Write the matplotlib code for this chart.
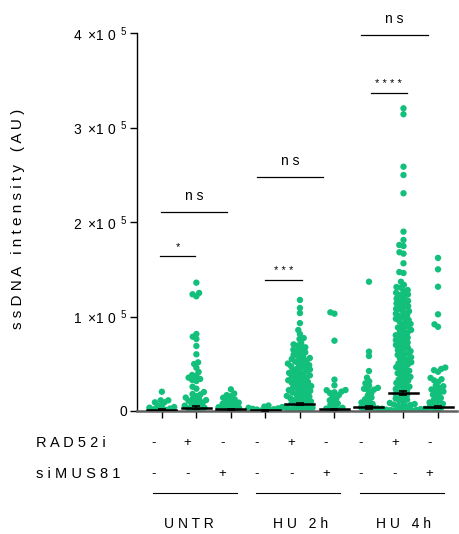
import matplotlib
matplotlib.use("Agg")
import matplotlib.pyplot as plt
import numpy as np

plt.rcParams['font.family'] = ['Liberation Sans', 'DejaVu Sans']
plt.rcParams['mathtext.fontset'] = 'custom'
plt.rcParams['mathtext.rm'] = 'Liberation Sans'

# ssDNA intensity values, in thousands of AU
untr_ctrl = [20.4, 11.3, 11.3, 9.2, 9.2, 5.6, 5.6, 4.2, 3.5, 2.6, 1.8, 1.2, 0.6, 0.2]
untr_rad52i = [135.8, 124.9, 123.5, 121.4, 81.5, 78.6, 76.2, 68.8, 60.0, 51.5, 49.7,
               45.8, 41.3, 38.1, 37.4, 35.3, 33.9, 32.8, 31.7, 25.7, 23.6, 20.1, 18.0,
               17.5, 15.9, 14.2, 13.0, 12.4, 11.5, 10.8, 9.6, 8.8, 7.6, 6.5, 5.6,
               4.7, 3.6, 2.8, 2.0, 1.2, 0.4]
untr_simus81 = [22.9, 18.5, 16.8, 15.6, 14.0, 12.3, 11.6, 10.2, 8.9, 7.7, 7.2, 6.1,
                5.1, 4.0, 3.3, 2.6, 1.8, 1.0, 0.3]
hu2_ctrl = [5.8, 4.6, 4.1, 3.4, 2.8, 2.3, 1.9, 1.5, 1.0, 0.5, 0.2]
hu2_rad52i = [117.5, 109.0, 103.6, 93.0, 85.7, 81.5, 77.2, 76.2, 72.0, 70.5, 69.3, 67.4,
              66.5, 64.8, 63.9, 62.0, 61.2, 59.5, 58.3, 57.3, 56.1, 55.0, 54.4, 53.1,
              52.3, 51.0, 50.2, 49.6, 48.5, 47.3, 46.6, 45.8, 44.7, 43.9, 43.0, 42.1,
              41.4, 40.3, 39.5, 38.6, 37.7, 36.8, 36.2, 35.1, 34.2, 33.4, 32.5, 31.6,
              30.8, 29.9, 29.2, 28.2, 27.3, 26.4, 25.6, 24.7, 23.9, 23.0, 22.1, 21.2,
              20.4, 19.5, 18.7, 17.8, 16.9, 16.0, 15.2, 14.3, 13.4, 12.6, 11.7, 10.8,
              10.0, 9.1, 8.2, 7.4, 6.5, 5.6, 4.8, 3.9, 3.0, 2.2, 1.3, 0.5, 3.3, 1.8,
              0.3]
hu2_simus81 = [104.4, 103.0, 74.4, 33.2, 27.2, 22.2, 22.0, 20.5, 19.8, 19.0, 16.9, 15.5,
               13.2, 11.3, 9.6, 8.0, 6.5, 5.1, 3.4, 2.5, 1.6, 0.8, 0.2]
hu4_ctrl = [136.8, 62.8, 58.2, 42.3, 35.3, 31.4, 29.3, 26.8, 24.5, 23.5, 22.6, 22.0,
            19.0, 16.5, 14.2, 12.4, 10.5, 9.0, 7.5, 6.2, 5.0, 3.8, 2.6, 1.4, 0.4]
hu4_rad52i = [320.3, 314.0, 258.5, 249.7, 230.4, 189.8, 181.0, 175.7, 174.6, 168.0,
              166.5, 156.3, 147.0, 146.0, 136.8, 133.5, 131.2, 130.4, 128.0, 126.9,
              125.1, 123.3, 122.6, 120.8, 119.0, 118.2, 116.5, 115.1, 113.9, 112.4,
              111.0, 109.7, 108.1, 107.3, 105.6, 104.2, 103.0, 101.5, 100.3, 99.1,
              97.6, 96.4, 95.0, 93.8, 92.2, 91.1, 89.7, 88.4, 87.0, 85.8, 84.3, 83.1,
              81.9, 80.2, 79.0, 77.7, 76.5, 75.1, 73.8, 72.4, 71.2, 69.9, 68.5, 67.2,
              66.0, 64.6, 63.3, 62.1, 60.8, 59.4, 58.1, 56.9, 55.5, 54.2, 53.0, 51.6,
              50.3, 49.0, 47.8, 46.4, 45.1, 43.9, 42.5, 41.2, 40.0, 38.7, 37.3, 36.1,
              34.8, 33.5, 32.2, 31.0, 29.7, 28.4, 27.1, 25.8, 24.6, 23.3, 22.0, 20.8,
              19.5, 18.2, 17.0, 15.7, 14.5, 13.2, 12.0, 10.8, 9.6, 8.5, 7.4, 6.3, 5.3,
              4.4, 3.5, 2.7, 2.0, 1.4, 0.9, 0.5, 0.2, 6.8, 5.0, 3.8, 2.4, 1.1, 0.4,
              0.1, 4.0, 2.2, 0.7]
hu4_simus81 = [162.0, 149.9, 131.5, 102.3, 91.7, 89.1, 46.0, 44.5, 43.2, 41.5, 35.0,
               33.6, 32.4, 30.8, 27.0, 26.2, 24.5, 22.8, 22.0, 20.6, 19.4, 17.3,
               15.6, 13.8, 12.0, 10.4, 9.0, 7.6, 6.3, 5.0, 3.4, 1.8, 0.3]

groups = [untr_ctrl, untr_rad52i, untr_simus81, hu2_ctrl, hu2_rad52i, hu2_simus81,
          hu4_ctrl, hu4_rad52i, hu4_simus81]
means = [1.5, 3.5, 1.8, 0.6, 7.4, 1.8, 3.8, 18.8, 4.2]
sems = [0.5, 1.5, 0.5, 0.2, 1.2, 0.6, 1.2, 2.0, 1.3]

rad52i_row = ['-', '+', '-', '-', '+', '-', '-', '+', '-']
simus81_row = ['-', '-', '+', '-', '-', '+', '-', '-', '+']
conditions = ['U N T R', 'H U   2 h', 'H U   4 h']
cond_x = [0.78, 4.03, 6.99]

# significance: (x start, x end, y, label)
sig_bars = [(-0.05, 0.97, 164, '*'), (-0.03, 1.88, 211, 'n s'),
            (3.0, 4.05, 139, '* * *'), (2.75, 4.67, 248, 'n s'),
            (6.05, 7.1, 337, '* * * *'), (5.78, 7.7, 398, 'n s')]

green = '#12bf7b'

fig = plt.figure(figsize=(4.59, 5.34), dpi=100)
ax = fig.add_axes([137 / 459, 123 / 534, 320 / 459, 378 / 534])
ax.set_xlim(-0.72, 8.55)
ax.set_ylim(0, 400)


def swarm(ypx, dmin):
    # simple beeswarm: place points bottom-up, closest free slot to the centre
    xs = np.zeros(len(ypx))
    placed = []
    for i in np.argsort(ypx, kind='stable'):
        y = ypx[i]
        cands = [0.0]
        for px, py in placed:
            dy = y - py
            if abs(dy) < dmin:
                dx = np.sqrt(dmin ** 2 - dy ** 2)
                cands += [px + dx, px - dx]
        cands.sort(key=lambda c: (round(abs(c), 3), c))
        for c in cands:
            if all((c - px) ** 2 + (y - py) ** 2 >= dmin ** 2 - 1e-6 for px, py in placed):
                xs[i] = c
                placed.append((c, y))
                break
    return xs


fig.canvas.draw()
px_per_x = ax.transData.transform((1, 0))[0] - ax.transData.transform((0, 0))[0]
for i, vals in enumerate(groups):
    vals = np.array(vals)
    ypx = ax.transData.transform(np.column_stack([np.full(len(vals), i), vals]))[:, 1]
    off = swarm(ypx, 4.3) / px_per_x
    ax.scatter(i + off, vals, s=21, color=green, edgecolors='none', zorder=2)
    ax.plot([i - 0.42, i + 0.42], [means[i], means[i]], color='black', lw=1.8, zorder=3)
    ax.errorbar(i, means[i], yerr=sems[i], color='black', capsize=3, lw=1.2,
                capthick=1.2, zorder=3)

ax.spines['top'].set_visible(False)
ax.spines['right'].set_visible(False)
ax.spines['left'].set_linewidth(1.0)
ax.spines['bottom'].set_linewidth(1.8)
ax.spines['bottom'].set_color('#606060')

ax.set_xticks(range(9))
ax.set_xticklabels([])
ax.tick_params(axis='x', length=5, width=1, color='black')
ax.set_yticks([0, 100, 200, 300, 400])
ax.set_yticklabels(['0', r'$1\;\times\!1\;0^{\;\;5}$', r'$2\;\times\!1\;0^{\;\;5}$',
                    r'$3\;\times\!1\;0^{\;\;5}$', r'$4\;\times\!1\;0^{\;\;5}$'])
ax.tick_params(axis='y', length=5, width=1, labelsize=10, pad=2)
ax.set_ylabel('s s D N A   i n t e n s i t y   ( A U )', fontsize=11)
ax.yaxis.set_label_coords(-0.35, 0.508)

for x0, x1, y, lab in sig_bars:
    ax.plot([x0, x1], [y, y], color='black', lw=0.9, clip_on=False)
    if lab == 'n s':
        ax.text((x0 + x1) / 2, y + 9, lab, ha='center', va='bottom', fontsize=10)
    else:
        ax.text((x0 + x1) / 2, y + 4, lab, ha='center', va='bottom', fontsize=8)

trans = ax.get_xaxis_transform()
fig.text(36 / 459, 1 - 443 / 534, 'R A D 5 2 i', ha='left', va='center', fontsize=10.5)
fig.text(36 / 459, 1 - 474 / 534, 's i M U S 8 1', ha='left', va='center', fontsize=10.5)
for i in range(9):
    ax.text(i - 0.25, -0.0847, rad52i_row[i], transform=trans, ha='center', va='center',
            fontsize=9.5)
    ax.text(i - 0.25, -0.1667, simus81_row[i], transform=trans, ha='center', va='center',
            fontsize=9.5)
for g in range(3):
    ax.plot([3 * g - 0.26, 3 * g + 2.17], [-0.217, -0.217], transform=trans, color='black',
            lw=0.8, clip_on=False)
    ax.text(cond_x[g], -0.299, conditions[g], transform=trans, ha='center', va='center',
            fontsize=10)

fig.savefig('out.png', dpi=100)
